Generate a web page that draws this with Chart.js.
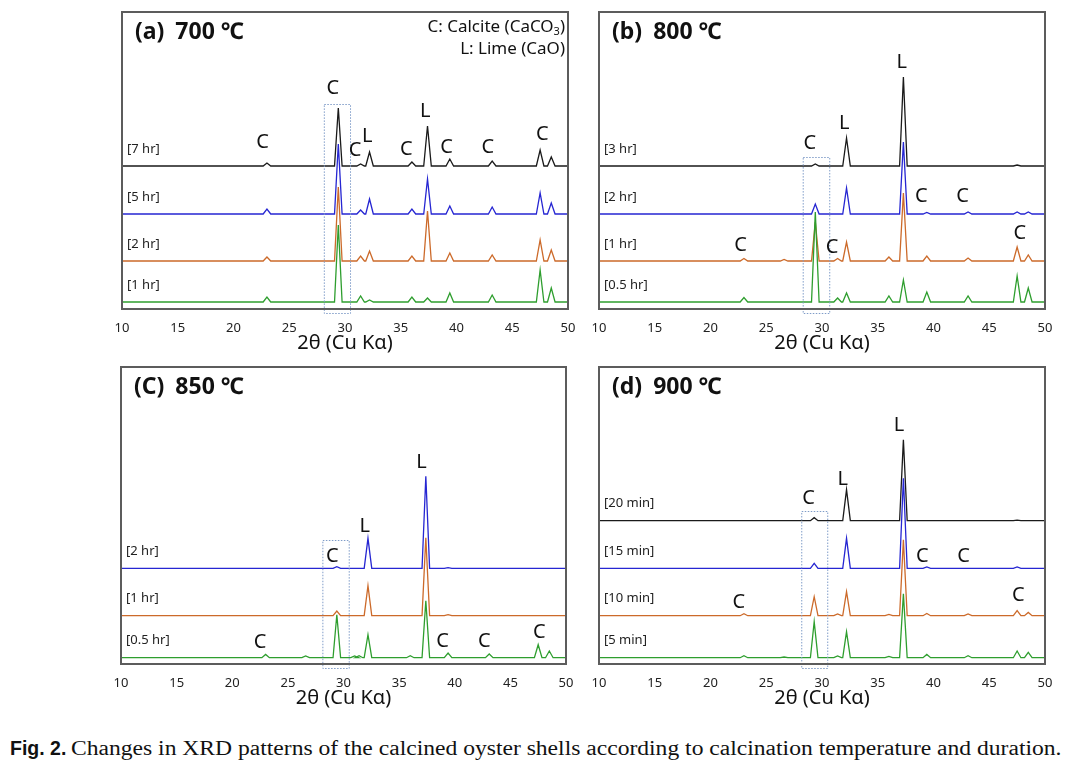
<!DOCTYPE html>
<html>
<head>
<meta charset="utf-8">
<title>XRD patterns of calcined oyster shells</title>
<script src="https://cdn.jsdelivr.net/npm/chart.js@4.4.1/dist/chart.umd.min.js"></script>
<style>
    body { margin: 0; background: #fff; width: 1071px; height: 770px; position: relative; overflow: hidden; }
    canvas.panel { position: absolute; }
    #caption { position: absolute; left: 10px; top: 737px; color: #111; white-space: nowrap; }
    #caption b { font-family: 'Liberation Sans', Arial, sans-serif; font-weight: bold; font-size: 19.5px; }
    #caption span { display: inline-block; font-family: 'Liberation Serif', serif; font-size: 20.5px; transform: scaleX(1.15); transform-origin: left center; margin-left: 5px; }
</style>
</head>
<body>
<canvas id="c700" class="panel"></canvas>
<canvas id="c800" class="panel"></canvas>
<canvas id="c850" class="panel"></canvas>
<canvas id="c900" class="panel"></canvas>
<div id="caption"><b>Fig. 2.</b><span>Changes in XRD patterns of the calcined oyster shells according to calcination temperature and duration.</span></div>

<script>
// Peak positions (2θ) and peak heights
const peaks700 = [23.0, 29.4, 31.4, 32.2, 36.0, 37.4, 39.4, 43.2, 47.5, 48.5];
const h700_1hr = [5, 77, 6, 2, 5, 4, 9, 7, 32, 14];
const h700_2hr = [4, 74, 5, 10, 5, 50, 8, 6, 21, 11];
const h700_5hr = [5, 70, 4, 15, 5, 35, 8, 7, 21, 11];
const h700_7hr = [3, 58, 2, 14, 4, 40, 7, 5, 16, 9];

const peaks800 = [23.0, 26.6, 29.4, 31.4, 32.2, 36.0, 37.3, 39.4, 43.1, 47.5, 48.5];
const h800_05hr = [4.5, 0, 90, 4, 9, 6, 22, 10, 6, 26, 14];
const h800_1hr = [2.5, 1.5, 39, 2.5, 19, 4, 68, 5, 3, 14, 6];
const h800_2hr = [0, 0, 10, 0, 26, 0, 72, 1.5, 2, 2, 2];
const h800_3hr = [0, 0, 2, 0, 28, 0, 89, 0, 0, 1, 0];

const peaks850 = [23.0, 26.6, 29.4, 31.0, 31.4, 32.2, 36.0, 37.4, 39.4, 43.1, 47.5, 48.5];
const h850_05hr = [3.3, 1.7, 43, 1.7, 2, 23, 2, 57, 4.7, 3.7, 13, 6.7];
const h850_1hr = [0, 0, 4.7, 0, 0, 30, 0, 78, 1, 0, 0, 0];
const h850_2hr = [0, 0, 1.7, 0, 0, 30, 0, 92, 0.7, 0, 0, 0];

const peaks900 = [23.0, 26.6, 29.3, 31.4, 32.2, 36.0, 37.3, 39.4, 43.1, 47.5, 48.5];
const h900_5min = [2, 0.7, 36, 1.7, 26, 1.3, 64, 3.3, 2, 6.7, 5.3];
const h900_10min = [2, 0, 19, 1.7, 24, 1.3, 76, 2.3, 1.7, 5, 3.3];
const h900_15min = [0, 0, 5, 0, 30, 0, 90, 1.3, 0, 1.3, 0];
const h900_20min = [0, 0, 3, 0, 31, 0, 81, 0, 0, 0.5, 0];

const xTicks = [10, 15, 20, 25, 30, 35, 40, 45, 50];

const GREEN = '#2e9e2e';
const ORANGE = '#cc6a2a';
const BLUE = '#2626d2';
const BLACK = '#1a1a1a';
const PLOT_H = 297;
const PEAK_HALF = 0.34;

const panels = [
    {
        id: 'c700', left: 122, top: 12, width: 446, title: ['(a)', '700 ℃'], peaks: peaks700, legend: true,
        series: [
            { label: '[1 hr]', h: h700_1hr, color: GREEN, offset: 7 },
            { label: '[2 hr]', h: h700_2hr, color: ORANGE, offset: 48 },
            { label: '[5 hr]', h: h700_5hr, color: BLUE, offset: 95 },
            { label: '[7 hr]', h: h700_7hr, color: BLACK, offset: 143 }
        ],
        box: [28.1, 30.45, 205],
        marks: [['C', 22.6, 167], ['C', 28.9, 221], ['C', 30.9, 159], ['L', 32.0, 173], ['C', 35.5, 160],
                ['L', 37.2, 198], ['C', 39.1, 162], ['C', 42.8, 162], ['C', 47.7, 175]]
    },
    {
        id: 'c800', left: 599, top: 12, width: 446, title: ['(b)', '800 ℃'], peaks: peaks800,
        series: [
            { label: '[0.5 hr]', h: h800_05hr, color: GREEN, offset: 7 },
            { label: '[1 hr]', h: h800_1hr, color: ORANGE, offset: 48 },
            { label: '[2 hr]', h: h800_2hr, color: BLUE, offset: 95 },
            { label: '[3 hr]', h: h800_3hr, color: BLACK, offset: 143 }
        ],
        box: [28.27, 30.65, 152],
        marks: [['L', 37.15, 247], ['L', 32.0, 186], ['C', 28.9, 166], ['C', 38.9, 113], ['C', 42.6, 113],
                ['C', 22.7, 64], ['C', 30.9, 62], ['C', 47.75, 76]]
    },
    {
        id: 'c850', left: 121, top: 367, width: 445, title: ['(C)', '850 ℃'], peaks: peaks850,
        series: [
            { label: '[0.5 hr]', h: h850_05hr, color: GREEN, offset: 6.3 },
            { label: '[1 hr]', h: h850_1hr, color: ORANGE, offset: 48.3 },
            { label: '[2 hr]', h: h850_2hr, color: BLUE, offset: 95.7 }
        ],
        box: [28.1, 30.47, 124],
        marks: [['L', 37.0, 202], ['L', 31.9, 138], ['C', 29.0, 108], ['C', 22.5, 22], ['C', 38.9, 23],
                ['C', 42.65, 23], ['C', 47.6, 32]]
    },
    {
        id: 'c900', left: 599, top: 367, width: 446, title: ['(d)', '900 ℃'], peaks: peaks900,
        series: [
            { label: '[5 min]', h: h900_5min, color: GREEN, offset: 6.3 },
            { label: '[10 min]', h: h900_10min, color: ORANGE, offset: 48.3 },
            { label: '[15 min]', h: h900_15min, color: BLUE, offset: 95.7 },
            { label: '[20 min]', h: h900_20min, color: BLACK, offset: 143.3 }
        ],
        box: [28.14, 30.47, 153],
        marks: [['L', 36.9, 239], ['L', 31.85, 185], ['C', 28.8, 166], ['C', 39.0, 108], ['C', 42.7, 108],
                ['C', 22.55, 62], ['C', 47.6, 69]]
    }
];

const FONT = "'Noto Sans', 'Open Sans', 'Noto Sans CJK KR', sans-serif";

// Turn a list of peaks into the vertices of a stick-like pattern
function buildLine(peaks, heights, offset) {
    const pts = [{ x: xTicks[0], y: offset }];
    peaks.forEach((p, i) => {
        pts.push({ x: p - PEAK_HALF, y: offset });
        pts.push({ x: p, y: offset + heights[i] });
        pts.push({ x: p + PEAK_HALF, y: offset });
    });
    pts.push({ x: xTicks[xTicks.length - 1], y: offset });
    return pts;
}

// Frame, dotted box, phase marks, series labels, panel title
function decor(p) {
    return {
        id: 'decor',
        afterDraw(chart) {
            const ctx = chart.ctx;
            const xs = chart.scales.x;
            const ys = chart.scales.y;
            const area = chart.chartArea;
            ctx.save();

            // dotted box around the main calcite peak
            ctx.strokeStyle = '#7f9cc8';
            ctx.lineWidth = 1;
            ctx.setLineDash([1.5, 1.5]);
            const bx1 = xs.getPixelForValue(p.box[0]);
            const bx2 = xs.getPixelForValue(p.box[1]);
            const by1 = ys.getPixelForValue(p.box[2]);
            const by2 = ys.getPixelForValue(-4);
            ctx.strokeRect(bx1 + 0.5, by1 + 0.5, bx2 - bx1, by2 - by1);
            ctx.setLineDash([]);

            // frame
            ctx.strokeStyle = '#5c5c5c';
            ctx.lineWidth = 2;
            ctx.strokeRect(area.left, area.top, area.right - area.left, area.bottom - area.top);

            // series labels
            ctx.fillStyle = '#222';
            ctx.font = '13px ' + FONT;
            ctx.textAlign = 'left';
            ctx.textBaseline = 'middle';
            p.series.forEach(s => {
                ctx.fillText(s.label, area.left + 5, ys.getPixelForValue(s.offset) - 17);
            });

            // C / L marks
            ctx.fillStyle = '#111';
            ctx.font = '20px ' + FONT;
            ctx.textAlign = 'center';
            p.marks.forEach(m => {
                ctx.fillText(m[0], xs.getPixelForValue(m[1]), ys.getPixelForValue(m[2]));
            });

            // panel title
            ctx.font = 'bold 23px ' + FONT;
            ctx.textAlign = 'left';
            ctx.fillText(p.title[0], area.left + 13, area.top + 20);
            const tw = ctx.measureText(p.title[0]).width;
            ctx.fillText(p.title[1], area.left + 13 + tw + 11, area.top + 20);

            // phase legend
            if (p.legend) {
                const partA = 'C: Calcite (CaCO';
                const partB = ')';
                ctx.font = '17px ' + FONT;
                const wa = ctx.measureText(partA).width;
                const wb = ctx.measureText(partB).width;
                ctx.font = '11px ' + FONT;
                const ws = ctx.measureText('3').width;
                let x = area.right - 3 - (wa + ws + wb);
                const y = area.top + 15;
                ctx.font = '17px ' + FONT;
                ctx.fillText(partA, x, y);
                ctx.font = '11px ' + FONT;
                ctx.fillText('3', x + wa, y + 5);
                ctx.font = '17px ' + FONT;
                ctx.fillText(partB, x + wa + ws, y);
                ctx.textAlign = 'right';
                ctx.fillText('L: Lime (CaO)', area.right - 3, area.top + 37);
            }
            ctx.restore();
        }
    };
}

function makePanel(p) {
    const canvas = document.getElementById(p.id);
    canvas.width = p.width + 50;
    canvas.height = PLOT_H + 60;
    canvas.style.left = (p.left - 25) + 'px';
    canvas.style.top = (p.top - 10) + 'px';

    new Chart(canvas, {
        type: 'line',
        data: {
            datasets: p.series.map(s => ({
                label: s.label,
                data: buildLine(p.peaks, s.h, s.offset),
                borderColor: s.color,
                borderWidth: 1.3,
                pointRadius: 0,
                tension: 0,
                fill: false
            }))
        },
        options: {
            responsive: false,
            animation: false,
            layout: { padding: { left: 25, right: 25, top: 10, bottom: 0 } },
            plugins: { legend: { display: false }, tooltip: { enabled: false } },
            scales: {
                x: {
                    type: 'linear',
                    min: xTicks[0],
                    max: xTicks[xTicks.length - 1],
                    grid: { display: false, drawTicks: false },
                    border: { display: false },
                    afterBuildTicks: s => { s.ticks = xTicks.map(v => ({ value: v })); },
                    ticks: { padding: 11, color: '#222', font: { family: FONT, size: 13 } },
                    title: { display: true, text: '2θ (Cu Kα)', color: '#111', font: { family: FONT, size: 20 }, padding: { top: 0, bottom: 4 } },
                    afterFit: s => { s.height = 50; }
                },
                y: { display: false, min: 0, max: PLOT_H }
            }
        },
        plugins: [decor(p)]
    });
}

panels.forEach(makePanel);
</script>
</body>
</html>
